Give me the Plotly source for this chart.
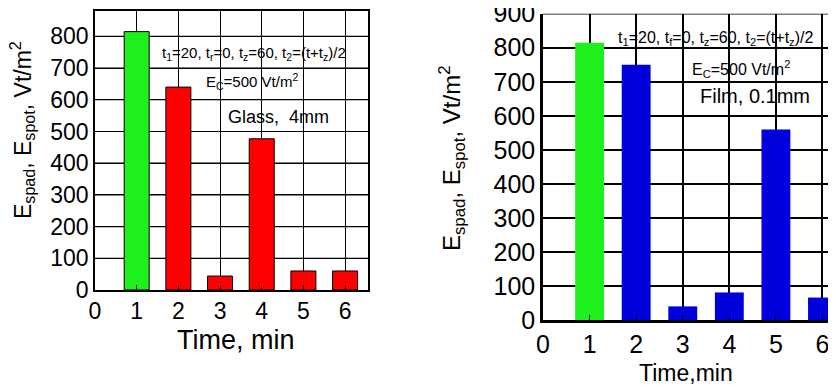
import plotly.graph_objects as go

# Data
time_min = [1, 2, 3, 4, 5, 6]
glass_values = [815, 640, 44, 477, 60, 60]
film_values = [815, 750, 40, 81, 560, 66]
glass_colors = ["#1ef01e", "#ff0000", "#ff0000", "#ff0000", "#ff0000", "#ff0000"]
film_colors = ["#1ef01e", "#0000dd", "#0000dd", "#0000dd", "#0000dd", "#0000dd"]
x_ticks = [0, 1, 2, 3, 4, 5, 6]
y_ticks_left = [0, 100, 200, 300, 400, 500, 600, 700, 800]
y_ticks_right = [0, 100, 200, 300, 400, 500, 600, 700, 800, 900]
x_range_left = [0, 6.55]
x_range_right = [0, 6.29]
y_range_left = [0, 880]
y_range_right = [0, 900]

FONT = "Arial, Liberation Sans, sans-serif"
OFF = 8                      # default page body margin
W, H = 836 - OFF, 388 - OFF  # figure size that fits the window


def px_x(p):
    return (p - OFF) / W


def px_y(p):
    return 1 - (p - OFF) / H


def hgrid(ticks, xr):
    xs, ys = [], []
    for v in ticks[1:]:
        xs += [xr[0], xr[1], None]
        ys += [v, v, None]
    return xs, ys


fig = go.Figure()

# horizontal grid lines (base subplots, beneath the bars)
gx, gy = hgrid(y_ticks_left, x_range_left)
fig.add_trace(go.Scatter(x=gx, y=gy, mode="lines", line=dict(color="black", width=1.2),
                         hoverinfo="skip", showlegend=False, xaxis="x", yaxis="y",
                         cliponaxis=True))
gx, gy = hgrid(y_ticks_right, x_range_right)
fig.add_trace(go.Scatter(x=gx, y=gy, mode="lines", line=dict(color="black", width=1.6),
                         hoverinfo="skip", showlegend=False, xaxis="x2", yaxis="y2",
                         cliponaxis=True))

# bars on overlaying y axes so they sit above the grid
fig.add_trace(go.Bar(x=time_min, y=glass_values, width=0.6,
                     marker=dict(color=glass_colors, line=dict(color="black", width=1)),
                     xaxis="x", yaxis="y3", showlegend=False))
fig.add_trace(go.Bar(x=time_min, y=film_values, width=0.62,
                     marker=dict(color=film_colors, line=dict(width=0)),
                     xaxis="x2", yaxis="y4", showlegend=False))


def xaxis_cfg(domain, rng, anchor, lw, gw, mirror, size):
    return dict(domain=domain, range=rng, anchor=anchor, automargin=False,
                tickmode="array", tickvals=x_ticks, ticktext=[str(v) for v in x_ticks],
                showgrid=True, gridcolor="black", gridwidth=gw, zeroline=False,
                showline=True, linecolor="black", linewidth=lw, mirror=mirror,
                ticks="inside", ticklen=5, tickcolor="black", ticklabeloverflow="allow",
                tickfont=dict(family=FONT, color="black", size=size))


def yaxis_cfg(domain, rng, anchor, vals, lw, gw, mirror, size):
    return dict(domain=domain, range=rng, anchor=anchor, automargin=False,
                tickmode="array", tickvals=vals,
                showgrid=True, gridcolor="black", gridwidth=gw, zeroline=False,
                showline=True, linecolor="black", linewidth=lw, mirror=mirror,
                ticks="inside", ticklen=5, tickcolor="black", ticklabeloverflow="allow",
                tickfont=dict(family=FONT, color="black", size=size))


fig.update_layout(
    template="none",
    width=W, height=H,
    margin=dict(l=0, r=0, t=0, b=0, autoexpand=False),
    paper_bgcolor="white", plot_bgcolor="white",
    showlegend=False,
    xaxis=xaxis_cfg([px_x(95), px_x(368)], x_range_left, "y", 1.5, 1.2, True, 23),
    yaxis=yaxis_cfg([px_y(290), px_y(11)], y_range_left, "x", y_ticks_left, 1.5, 1.2, True, 23),
    xaxis2=xaxis_cfg([px_x(543), 1.0], x_range_right, "y2", 2.5, 1.6, False, 25),
    yaxis2=yaxis_cfg([px_y(320), px_y(13.7)], y_range_right, "x2", y_ticks_right, 2.5, 1.6, False, 25),
    yaxis3=dict(overlaying="y", anchor="x", range=y_range_left, visible=False,
                showgrid=False, zeroline=False),
    yaxis4=dict(overlaying="y2", anchor="x2", range=y_range_right, visible=False,
                showgrid=False, zeroline=False),
)


def ann(text, x, y, size, angle=0):
    fig.add_annotation(text=text, x=px_x(x), y=px_y(y), xref="paper", yref="paper",
                       showarrow=False, textangle=angle, xanchor="center", yanchor="middle",
                       font=dict(family=FONT, size=size, color="black"))


ytitle = "E<sub>spad</sub>, E<sub>spot</sub>, Vt/m<sup>2</sup>"
ann(ytitle, 22, 130, 23, -90)
ann(ytitle, 452, 158, 24, -90)
ann("Time, min", 236, 340, 27)
ann("Time,min", 686, 373, 23)

ann("t<sub>1</sub>=20, t<sub>r</sub>=0, t<sub>z</sub>=60, t<sub>2</sub>=(t+t<sub>z</sub>)/2", 254, 53, 15)
ann("E<sub>C</sub>=500 Vt/m<sup>2</sup>", 252, 81, 15)
ann("Glass,  4mm", 278, 117, 18)

ann("t<sub>1</sub>=20, t<sub>f</sub>=0, t<sub>z</sub>=60, t<sub>2</sub>=(t+t<sub>z</sub>)/2", 715, 38, 16)
ann("E<sub>C</sub>=500 Vt/m<sup>2</sup>", 741, 69, 16)
ann("Film, 0.1mm", 755, 96, 20)

fig.write_html("out.html")
